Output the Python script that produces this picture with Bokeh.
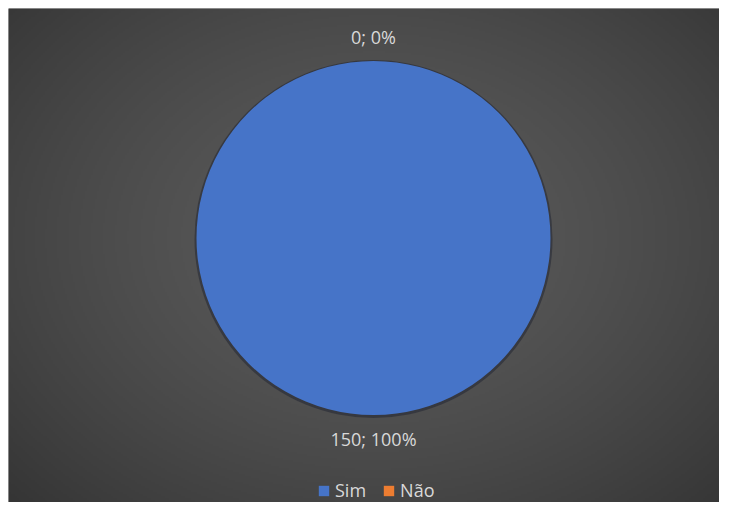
import numpy as np
from bokeh.plotting import figure
from bokeh.models import Range1d, ColumnDataSource, Legend, LegendItem, CDSView, BooleanFilter
from bokeh.core.properties import value
from bokeh.embed import file_html
from bokeh.resources import INLINE

# ---- data ----
categories = ["Sim", "Não"]
counts = [150, 0]
colors = ["#4674c8", "#ED7D31"]

W, H = 719, 502
B = 8                     # white strip left/top (as in the reference crop)
FW, FH = W - B, H - B     # frame size
CX, CY, R = 365, 264.5, 177

total = sum(counts)
fracs = [c / total for c in counts]
starts, ends, mids = [], [], []
a = np.pi / 2
for f in fracs:
    starts.append(a)
    sweep = min(f * 2 * np.pi, 2 * np.pi - 1e-4)  # a full 2*pi sweep collapses in SVG
    e = a - sweep
    ends.append(e)
    mids.append(a - f * np.pi)
    a = a - f * 2 * np.pi

labels = [f"{c}; {round(f * 100)}%" for c, f in zip(counts, fracs)]
lr = R + 24
lx = [CX + lr * np.cos(m) for m in mids]
ly = [CY + lr * np.sin(m) for m in mids]

src = ColumnDataSource(dict(
    cat=categories, start=starts, end=ends, color=colors,
    lx=lx, ly=ly, label=labels,
    nx=[np.nan] * len(categories), ny=[np.nan] * len(categories),
))

p = figure(width=W, height=H, x_range=Range1d(0, FW), y_range=Range1d(0, FH),
           output_backend="svg", toolbar_location=None,
           min_border_left=B, min_border_top=B, min_border_right=0, min_border_bottom=0,
           outline_line_color=None, background_fill_color="#444444",
           border_fill_color="white")
p.axis.visible = False
p.grid.visible = False

# radial background gradient
ny, nx = 247, 356
yy, xx = np.mgrid[0:ny, 0:nx]
xs = (xx + 0.5) / nx * FW
ys = (yy + 0.5) / ny * FH
d = np.sqrt(((xs - CX) / (FW * 0.55)) ** 2 + ((ys - CY) / (FH * 0.6)) ** 2)
c = np.clip(91 - 26 * d ** 1.5, 45, 95).astype(np.uint32)
img = (255 << 24) | (c << 16) | (c << 8) | c
p.image_rgba(image=[img.astype(np.uint32)], x=0, y=0, dw=FW, dh=FH)

# soft shadow ring
p.circle(x=[CX], y=[CY - 1], radius=R + 2, fill_color="#1e2230", fill_alpha=0.5,
         line_color=None)

# only non-empty slices are drawn (a zero-angle wedge would render as a full disc)
view = CDSView(filter=BooleanFilter([v > 0 for v in counts]))
p.wedge(x=CX, y=CY, radius=R, start_angle="start", end_angle="end",
        direction="clock", fill_color="color", line_color=None,
        source=src, view=view)

# legend swatches (not placed in the plot)
sw = p.rect(x="nx", y="ny", width=1, height=1, fill_color="color",
            line_color=None, source=src)

p.text(x="lx", y="ly", text="label", source=src, text_align="center",
       text_baseline="middle", text_color="#d9d9d9", text_font_size="18px",
       text_font=value("Open Sans"))

legend = Legend(items=[LegendItem(label=categories[i], renderers=[sw], index=i)
                       for i in range(len(categories))],
                orientation="horizontal", location=(309, 0),
                background_fill_alpha=0, border_line_color=None,
                label_text_color="#d9d9d9", label_text_font_size="18px",
                label_text_font="Open Sans", glyph_width=13, glyph_height=13,
                label_standoff=5, spacing=16, padding=0, margin=0,
                label_height=20)
p.add_layout(legend, "center")

open("out.html", "w").write(file_html(p, INLINE))
